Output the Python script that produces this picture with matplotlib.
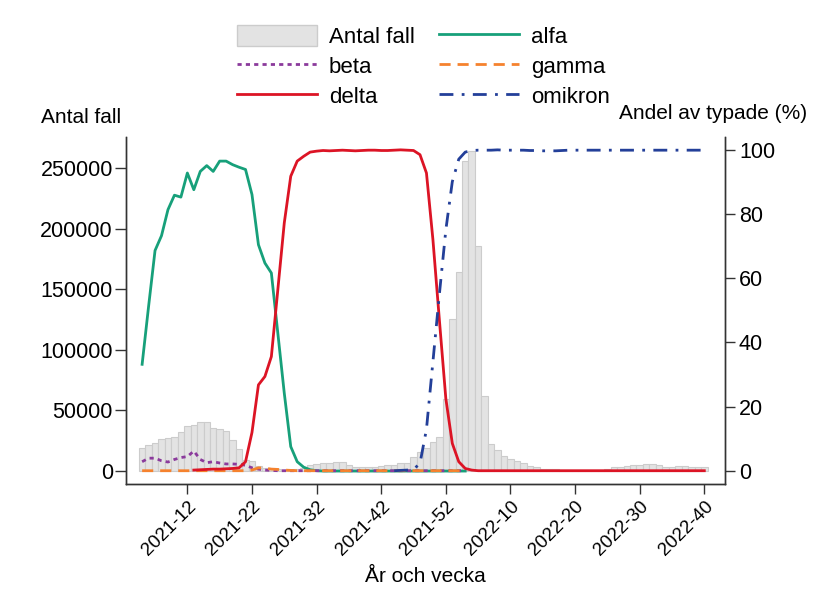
import matplotlib
matplotlib.use("Agg")
import matplotlib.pyplot as plt
from matplotlib.patches import Patch
from matplotlib.lines import Line2D
import numpy as np

plt.rcParams['font.family'] = ['Liberation Sans', 'DejaVu Sans']

# veckor 2021-05 .. 2022-40
weeks = [f"2021-{w:02d}" for w in range(5, 53)] + [f"2022-{w:02d}" for w in range(1, 41)]
tick_labels = ["2021-12", "2021-22", "2021-32", "2021-42", "2021-52",
               "2022-10", "2022-20", "2022-30", "2022-40"]

antal_fall = [19300, 21200, 23400, 26100, 27500, 28300, 32500, 37400, 38000, 40400,
              40400, 35500, 35000, 33000, 25600, 17900, 9100, 8500, 4000, 2500,
              2000, 1500, 1200, 1200, 1500, 2500, 4950, 5500, 6300, 6900,
              7700, 7100, 5000, 3600, 3000, 3600, 3600, 4400, 5000, 5000,
              6300, 6900, 11800, 15500, 19000, 23600, 27800, 59100, 125400, 164500,
              256000, 264300, 185600, 62200, 22300, 17300, 12400, 9800, 8100, 6800,
              4300, 3000, 1900, 1600, 1300, 1000, 900, 800, 800, 800,
              900, 1200, 1900, 3000, 3600, 4100, 5200, 5200, 5800, 5500,
              5200, 3600, 3600, 3800, 3800, 3600, 3600, 3000]

# andel av typade (%), start-index i veckolistan
alfa_start = 0
alfa = [33.2, 51.2, 68.6, 73.2, 81.3, 85.8, 85.2, 92.7, 87.5, 93.2,
        95.0, 93.2, 96.4, 96.4, 95.3, 94.5, 93.8, 86.0, 70.4, 64.7,
        61.6, 42.9, 24.2, 7.6, 2.9, 1.2, 0.4, 0.1, 0.0, 0.0,
        0.0, 0.0, 0.0, 0.0, 0.0, 0.0, 0.0, 0.0, 0.0, 0.0,
        0.0, 0.0, 0.0, 0.0, 0.0, 0.0, 0.0, 0.0, 0.0, 0.0, 0.0]
beta_start = 0
beta = [2.9, 4.0, 4.0, 3.2, 2.8, 3.6, 4.2, 4.5, 6.2, 3.6,
        2.6, 2.9, 2.5, 2.2, 2.2, 2.1, 1.8, 1.0, 0.6, 0.3,
        0.2, 0.1, 0.1, 0.1, 0.1, 0.1, 0.1, 0.1, 0.1, 0.1,
        0.1, 0.1, 0.1, 0.1, 0.1, 0.1, 0.1, 0.1, 0.1, 0.1,
        0.1, 0.1, 0.1, 0.1, 0.1, 0.1, 0.1, 0.1, 0.1, 0.1, 0.1]
gamma_start = 0
gamma = [0.1, 0.1, 0.1, 0.1, 0.1, 0.1, 0.1, 0.1, 0.1, 0.1,
         0.1, 0.1, 0.1, 0.1, 0.1, 0.1, 0.1, 0.3, 1.0, 0.9,
         0.6, 0.5, 0.3, 0.2, 0.1, 0.1, 0.1, 0.1, 0.1, 0.1,
         0.1, 0.1, 0.1, 0.1, 0.1, 0.1, 0.1, 0.1, 0.1, 0.1,
         0.1, 0.1, 0.1, 0.1, 0.1, 0.1, 0.1, 0.1, 0.1, 0.1, 0.1]
delta_start = 8
delta = [0.3, 0.4, 0.5, 0.6, 0.6, 0.7, 0.8, 1.0, 2.9, 12.0,
         26.8, 29.4, 35.6, 56.4, 77.2, 91.7, 96.4, 97.9, 99.2, 99.5,
         99.7, 99.6, 99.7, 99.8, 99.7, 99.6, 99.7, 99.8, 99.8, 99.7,
         99.7, 99.8, 99.9, 99.8, 99.7, 98.4, 92.7, 72.0, 47.0, 22.5,
         8.6, 2.9, 0.8, 0.3, 0.1, 0.1, 0.1, 0.1, 0.1, 0.1,
         0.1, 0.1, 0.1, 0.1, 0.1, 0.1, 0.1, 0.1, 0.1, 0.1,
         0.1, 0.1, 0.1, 0.1, 0.1, 0.1, 0.1, 0.1, 0.1, 0.1,
         0.1, 0.1, 0.1, 0.1, 0.1, 0.1, 0.1, 0.1, 0.1, 0.1]
omikron_start = 39
omikron = [0.1, 0.2, 0.3, 0.5, 2.4, 13.0, 34.0, 55.0, 75.0, 90.0,
           97.0, 99.2, 99.7, 99.8, 99.8, 99.8, 99.9, 99.8, 99.8, 99.8,
           99.8, 99.7, 99.7, 99.6, 99.6, 99.6, 99.7, 99.8, 99.8, 99.8,
           99.8, 99.8, 99.8, 99.8, 99.8, 99.8, 99.8, 99.8, 99.8, 99.8,
           99.8, 99.8, 99.8, 99.8, 99.8, 99.8, 99.8, 99.8, 99.8]

x = np.arange(len(weeks))

fig = plt.figure(figsize=(8.32, 6.03), dpi=100)
ax = fig.add_axes([0.1514, 0.1973, 0.72, 0.5755])
ax2 = ax.twinx()

ax.bar(x, antal_fall, width=1.0, color='#e3e3e3', edgecolor='#cccccc', linewidth=0.8)

def line(vals, start, **kw):
    xs = np.arange(start, start + len(vals))
    return ax2.plot(xs, vals, **kw)[0]

lw = 2.0
l_alfa = line(alfa, alfa_start, color='#17a07a', lw=lw)
l_beta = line(beta, beta_start, color='#8b3a9c', lw=lw, dashes=(1.5, 1.5))
l_gamma = line(gamma, gamma_start, color='#f5822e', lw=lw, dashes=(4, 2.5))
l_delta = line(delta, delta_start, color='#dc1425', lw=lw)
l_omik = line(omikron, omikron_start, color='#233f99', lw=lw, dashes=(5, 3, 1, 3))

ax.set_xlim(-2.5, 90.2)
ax.set_ylim(-10700, 275600)
ax2.set_ylim(-4.04, 103.9)

ax.set_yticks([0, 50000, 100000, 150000, 200000, 250000])
ax2.set_yticks([0, 20, 40, 60, 80, 100])
ax.set_xticks([weeks.index(t) for t in tick_labels])
ax.set_xticklabels(tick_labels, rotation=45, ha='right', rotation_mode='anchor')

for a in (ax, ax2):
    a.spines['top'].set_visible(False)
    for s in a.spines.values():
        s.set_color('#333333')
        s.set_linewidth(1.0)
ax.tick_params(axis='x', labelsize=13.5, length=7, width=1, pad=3, color='#333333')
ax.tick_params(axis='y', labelsize=15.5, length=8, width=1, pad=1.5, color='#333333')
ax2.tick_params(axis='y', labelsize=15.5, length=7, width=1, pad=3, color='#333333')

ax.set_xlabel("År och vecka", fontsize=15, labelpad=6)
fig.text(0.145, 0.805, "Antal fall", fontsize=15, ha='right', va='center')
fig.text(0.97, 0.812, "Andel av typade (%)", fontsize=15, ha='right', va='center')

handles = [Patch(facecolor='#e3e3e3', edgecolor='#cccccc', label='Antal fall'),
           Line2D([], [], color='#8b3a9c', lw=lw, dashes=(1.5, 1.5), label='beta'),
           Line2D([], [], color='#dc1425', lw=lw, label='delta'),
           Line2D([], [], color='#17a07a', lw=lw, label='alfa'),
           Line2D([], [], color='#f5822e', lw=lw, dashes=(4, 2.5), label='gamma'),
           Line2D([], [], color='#233f99', lw=lw, dashes=(5, 3, 1, 3), label='omikron')]
fig.legend(handles=handles, ncol=2, loc='center', bbox_to_anchor=(0.509, 0.89),
           frameon=False, fontsize=16, handlelength=3.6, handleheight=1.1,
           handletextpad=0.55, columnspacing=1.1, labelspacing=0.3)

fig.savefig("out.png", dpi=100)
